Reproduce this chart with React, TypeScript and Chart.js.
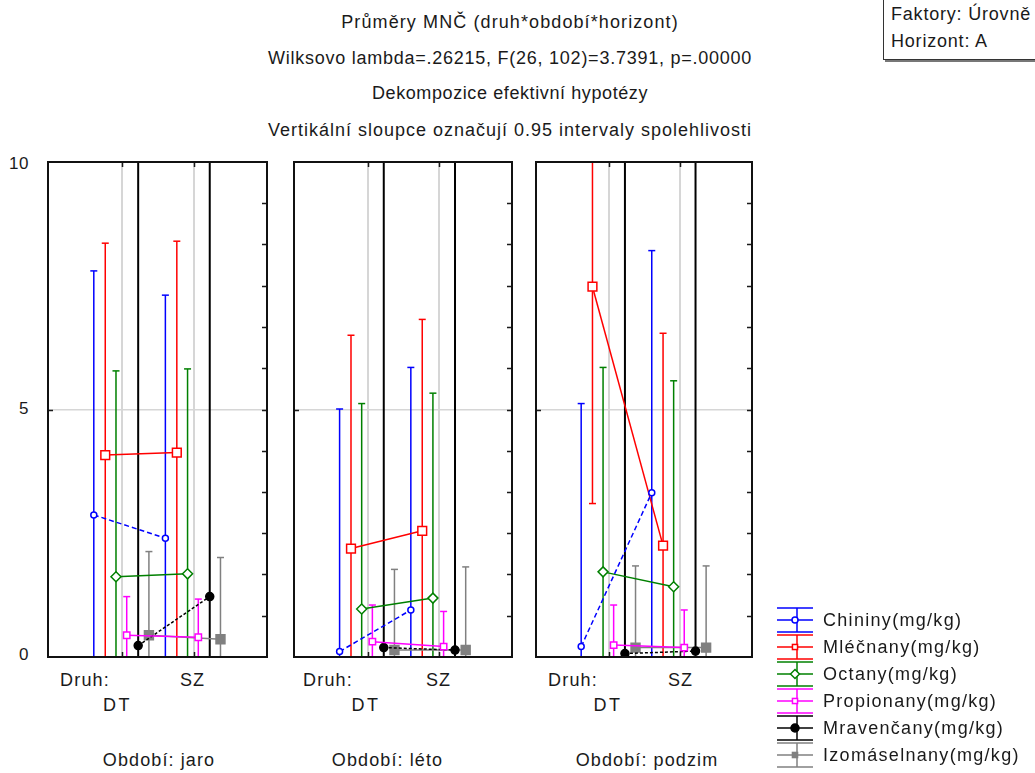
import React, { useEffect, useRef } from 'react';
import { Chart, registerables } from 'chart.js';

Chart.register(...registerables);

// ---------- DATA ----------
const periods = ['jaro', 'léto', 'podzim'];
const druhy = ['DT', 'SZ'];
const seriesNames = [
  'Chininy(mg/kg)',
  'Mléčnany(mg/kg)',
  'Octany(mg/kg)',
  'Propionany(mg/kg)',
  'Mravenčany(mg/kg)',
  'Izomáselnany(mg/kg)',
];
// order of values: jaro DT, jaro SZ, léto DT, léto SZ, podzim DT, podzim SZ
const chininyMean = [2.87, 2.4, 0.11, 0.95, 0.21, 3.32];
const chininyUpper = [7.8, 7.31, 5.01, 5.85, 5.12, 8.21];
const chininyLower = [-2.06, -2.51, -4.79, -3.95, -4.7, -1.57];

const mlecnanyMean = [4.08, 4.13, 2.19, 2.55, 7.48, 2.25];
const mlecnanyUpper = [8.36, 8.4, 6.5, 6.82, 11.86, 6.54];
const mlecnanyLower = [-0.2, -0.14, -2.12, -1.72, 3.1, -2.04];

const octanyMean = [1.62, 1.68, 0.97, 1.19, 1.72, 1.42];
const octanyUpper = [5.78, 5.82, 5.12, 5.33, 5.85, 5.58];
const octanyLower = [-2.54, -2.46, -3.18, -2.95, -2.41, -2.74];

const propionanyMean = [0.44, 0.4, 0.31, 0.21, 0.24, 0.19];
const propionanyUpper = [1.22, 1.17, 1.05, 0.92, 1.05, 0.95];
const propionanyLower = [-0.34, -0.37, -0.43, -0.5, -0.57, -0.57];

const mravencanyMean = [0.23, 1.22, 0.19, 0.14, 0.07, 0.12];
const mravencanyUpper = [10.9, 11.9, 10.8, 10.7, 10.6, 10.7];
const mravencanyLower = [-10.4, -9.5, -10.4, -10.4, -10.5, -10.5];

const izomaselnanyMean = [0.44, 0.36, 0.14, 0.14, 0.19, 0.19];
const izomaselnanyUpper = [2.13, 2.01, 1.77, 1.82, 1.84, 1.84];
const izomaselnanyLower = [-1.25, -1.29, -1.49, -1.54, -1.46, -1.46];

const yTicks = [0, 5, 10];
const yTickLabels = ['0', '5', '10'];
const yMinorCount = 12;

const titleLines = [
  'Průměry MNČ (druh*období*horizont)',
  'Wilksovo lambda=.26215, F(26, 102)=3.7391, p=.00000',
  'Dekompozice efektivní hypotézy',
  'Vertikální sloupce označují 0.95 intervaly spolehlivosti',
];
const factorLines = ['Faktory: Úrovně', 'Horizont: A'];
const factorName = 'Druh:';
const periodLabel = 'Období:';

const means = [chininyMean, mlecnanyMean, octanyMean, propionanyMean, mravencanyMean, izomaselnanyMean];
const uppers = [chininyUpper, mlecnanyUpper, octanyUpper, propionanyUpper, mravencanyUpper, izomaselnanyUpper];
const lowers = [chininyLower, mlecnanyLower, octanyLower, propionanyLower, mravencanyLower, izomaselnanyLower];

// ---------- STYLE ----------
type St = {
  color: string; point: string; radius: number; fill: string; dash: number[]; offset: number; errWidth: number;
};
const styles: St[] = [
  { color: '#0000ff', point: 'circle', radius: 3, fill: '#ffffff', dash: [5, 3], offset: -0.4, errWidth: 1.5 },
  { color: '#ff0000', point: 'rect', radius: 6.2, fill: '#ffffff', dash: [], offset: -0.24, errWidth: 1.5 },
  { color: '#008000', point: 'rectRot', radius: 5, fill: '#ffffff', dash: [], offset: -0.09, errWidth: 1.5 },
  { color: '#ff00ff', point: 'rect', radius: 4.5, fill: '#ffffff', dash: [], offset: 0.06, errWidth: 1.5 },
  { color: '#000000', point: 'circle', radius: 4, fill: '#000000', dash: [3, 2], offset: 0.22, errWidth: 2 },
  { color: '#808080', point: 'rect', radius: 6.3, fill: '#808080', dash: [], offset: 0.37, errWidth: 1.5 },
];

const FONT = '"Liberation Sans", Arial, sans-serif';
const PAD = 12;
const PANEL_TOP = 162;
const PANEL_H = 495;
const panels = [
  { left: 48, width: 219, druhX: 60, dtX: 117.5, szX: 192.5, obX: 159 },
  { left: 294, width: 218, druhX: 303, dtX: 366, szX: 438.5, obX: 387.5 },
  { left: 536, width: 216, druhX: 548, dtX: 608, szX: 680.5, obX: 647 },
];

const framePlugin = {
  id: 'frame',
  afterDatasetsDraw(chart: any) {
    const { ctx, chartArea: a, scales } = chart;
    ctx.save();
    ctx.strokeStyle = '#1a1a1a';
    ctx.lineWidth = 1.5;
    ctx.beginPath();
    for (let i = 1; i < yMinorCount; i++) {
      const y = Math.round(scales.y.getPixelForValue((i * 10) / yMinorCount)) + 0.5;
      ctx.moveTo(a.right, y);
      ctx.lineTo(a.right - 5, y);
    }
    const y5 = Math.round(scales.y.getPixelForValue(5)) + 0.5;
    ctx.moveTo(a.left, y5);
    ctx.lineTo(a.left + 5, y5);
    druhy.forEach((_, i) => {
      const x = Math.round(scales.x.getPixelForValue(i)) + 0.5;
      ctx.moveTo(x, a.top);
      ctx.lineTo(x, a.top + 5);
      ctx.moveTo(x, a.bottom);
      ctx.lineTo(x, a.bottom - 5);
    });
    ctx.stroke();
    ctx.lineWidth = 2;
    ctx.strokeStyle = '#111111';
    ctx.strokeRect(a.left, a.top, a.right - a.left, a.bottom - a.top);
    ctx.restore();
  },
};

function Panel({ p }: { p: number }) {
  const ref = useRef<HTMLCanvasElement>(null);
  const pl = panels[p];
  useEffect(() => {
    const datasets: any[] = [];
    const i0 = p * 2;
    const i1 = p * 2 + 1;
    styles.forEach((st, si) => {
      datasets.push({
        label: seriesNames[si],
        data: [
          { x: 0 + st.offset, y: means[si][i0] },
          { x: 1 + st.offset, y: means[si][i1] },
        ],
        showLine: true,
        borderColor: st.color,
        borderWidth: 1.5,
        borderDash: st.dash,
        pointStyle: st.point,
        pointRadius: st.radius,
        pointBackgroundColor: st.fill,
        pointBorderColor: st.color,
        pointBorderWidth: 1.5,
        order: 0,
      });
      datasets.push({
        label: seriesNames[si] + ' CI',
        data: [
          { x: 0 + st.offset, y: lowers[si][i0] },
          { x: 0 + st.offset, y: uppers[si][i0] },
          { x: 0 + st.offset, y: null },
          { x: 1 + st.offset, y: lowers[si][i1] },
          { x: 1 + st.offset, y: uppers[si][i1] },
        ],
        showLine: true,
        spanGaps: false,
        borderColor: st.color,
        borderWidth: st.errWidth,
        pointStyle: 'line',
        pointRadius: 3.5,
        pointBorderColor: st.color,
        pointBorderWidth: 1.5,
        clip: 0,
        order: 1,
      });
    });
    const chart = new Chart(ref.current as HTMLCanvasElement, {
      type: 'scatter',
      data: { datasets },
      options: {
        animation: false,
        responsive: false,
        devicePixelRatio: 1,
        events: [],
        layout: { padding: PAD },
        plugins: { legend: { display: false }, tooltip: { enabled: false } },
        scales: {
          x: {
            type: 'linear',
            min: -1.04,
            max: 2.02,
            afterBuildTicks: (s: any) => {
              s.ticks = druhy.map((_, i) => ({ value: i }));
            },
            ticks: { display: false },
            grid: { color: '#d6d6d6', lineWidth: 2, drawTicks: false },
            border: { display: false },
          },
          y: {
            type: 'linear',
            min: 0,
            max: 10,
            afterBuildTicks: (s: any) => {
              s.ticks = yTicks.map((v) => ({ value: v }));
            },
            ticks: { display: false },
            grid: { color: '#d6d6d6', lineWidth: 1.5, drawTicks: false },
            border: { display: false },
          },
        },
      } as any,
      plugins: [framePlugin],
    });
    return () => chart.destroy();
  }, [p]);
  return (
    <canvas
      ref={ref}
      width={pl.width + 2 * PAD}
      height={PANEL_H + 2 * PAD}
      style={{ position: 'absolute', left: pl.left - PAD, top: PANEL_TOP - PAD }}
    />
  );
}

function Txt({ x, y, children, align = 'left', size = 18, ls = 1 }: any) {
  const style: any = {
    position: 'absolute',
    top: y - 11,
    height: 22,
    lineHeight: '22px',
    fontFamily: FONT,
    fontSize: size,
    letterSpacing: ls,
    whiteSpace: 'nowrap',
    color: '#1a1a1a',
  };
  if (align === 'left') style.left = x;
  else if (align === 'right') {
    style.right = 1035 - x;
  } else {
    style.left = x - 600;
    style.width = 1200;
    style.textAlign = 'center';
  }
  return <div style={style}>{children}</div>;
}

function LegendMarker({ st, cx, cy }: { st: St; cx: number; cy: number }) {
  if (st.point === 'circle')
    return <circle cx={cx} cy={cy} r={st.radius} fill={st.fill} stroke={st.color} strokeWidth={1.5} />;
  if (st.point === 'rectRot') {
    const r = st.radius;
    return (
      <polygon
        points={`${cx},${cy - r} ${cx + r},${cy} ${cx},${cy + r} ${cx - r},${cy}`}
        fill={st.fill}
        stroke={st.color}
        strokeWidth={1.5}
      />
    );
  }
  const s = st.radius * Math.SQRT1_2 * 0.8;
  return <rect x={cx - s} y={cy - s} width={2 * s} height={2 * s} fill={st.fill} stroke={st.color} strokeWidth={1.5} />;
}

function Legend() {
  const top0 = 620;
  const step = 27;
  return (
    <>
      <svg style={{ position: 'absolute', left: 0, top: 0 }} width={1035} height={773}>
        {styles.map((st, i) => {
          const cy = top0 + i * step;
          return (
            <g key={i}>
              <line x1={777} x2={813} y1={cy - 12} y2={cy - 12} stroke={st.color} strokeWidth={1.5} />
              <line x1={777} x2={813} y1={cy} y2={cy} stroke={st.color} strokeWidth={1.5} />
              <line x1={777} x2={813} y1={cy + 12} y2={cy + 12} stroke={st.color} strokeWidth={1.5} />
              <line x1={797} x2={797} y1={cy - 12} y2={cy + 12} stroke={st.color} strokeWidth={1.5} />
              <LegendMarker st={{ ...st, radius: Math.min(st.radius, 4.5) }} cx={795} cy={cy} />
            </g>
          );
        })}
      </svg>
      {seriesNames.map((n, i) => (
        <Txt key={n} x={823} y={top0 + i * step} ls={1.3}>
          {n}
        </Txt>
      ))}
    </>
  );
}

export default function App() {
  const titleY = [22, 58, 93, 130];
  const titleLS = [1.1, 0.75, 0.6, 1.0];
  return (
    <div
      style={{
        position: 'fixed',
        left: 0,
        top: 0,
        width: 1035,
        height: 773,
        background: '#ffffff',
        overflow: 'hidden',
      }}
    >
      {titleLines.map((t, i) => (
        <Txt key={i} x={510} y={titleY[i]} align="center" ls={titleLS[i]}>
          {t}
        </Txt>
      ))}
      <div
        style={{
          position: 'absolute',
          left: 883,
          top: -4,
          width: 170,
          height: 62,
          border: '1.5px solid #333',
          boxShadow: '2px 2px 0 #777',
          background: '#fff',
        }}
      />
      {factorLines.map((t, i) => (
        <Txt key={t} x={891} y={14 + i * 27} ls={0.8}>
          {t}
        </Txt>
      ))}
      {yTicks.map((v, i) => (
        <Txt key={v} x={29} y={[655, 409, 164][i]} align="right" size={17} ls={0.5}>
          {yTickLabels[i]}
        </Txt>
      ))}
      {panels.map((pl, p) => (
        <React.Fragment key={p}>
          <Panel p={p} />
          <Txt x={pl.druhX} y={680} ls={1.2}>
            {factorName}
          </Txt>
          <Txt x={pl.szX} y={680} align="center" ls={1}>
            {druhy[1]}
          </Txt>
          <Txt x={pl.dtX} y={705} align="center" ls={2.5}>
            {druhy[0]}
          </Txt>
          <Txt x={pl.obX} y={760} align="center" ls={1.1}>
            {periodLabel + ' ' + periods[p]}
          </Txt>
        </React.Fragment>
      ))}
      <Legend />
    </div>
  );
}
